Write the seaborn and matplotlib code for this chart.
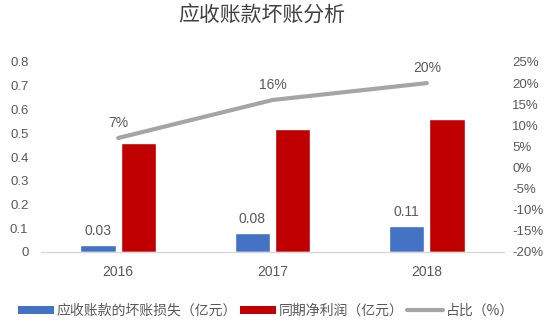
import numpy as np
import pandas as pd
import matplotlib
matplotlib.use("Agg")
import matplotlib.pyplot as plt
from matplotlib.patches import Patch
from matplotlib.lines import Line2D
from matplotlib.ticker import FuncFormatter
import seaborn as sns

# Data
years = ["2016", "2017", "2018"]
bad_debt = [0.03, 0.08, 0.11]        # 应收账款的坏账损失（亿元）
net_profit = [0.46, 0.52, 0.56]      # 同期净利润（亿元）
ratio = [0.07, 0.16, 0.20]           # 占比
ratio_labels = ["7%", "16%", "20%"]
series_names = ["应收账款的坏账损失（亿元）", "同期净利润（亿元）", "占比（%）"]
left_ticks = [0, 0.1, 0.2, 0.3, 0.4, 0.5, 0.6, 0.7, 0.8]
right_ticks = [-0.20, -0.15, -0.10, -0.05, 0, 0.05, 0.10, 0.15, 0.20, 0.25]

BLUE = "#4472C4"
RED = "#C00000"
GRAY = "#A5A5A5"
TXT = "#595959"

sns.set_theme(style="white")
plt.rcParams["font.family"] = ["Liberation Sans", "Noto Sans CJK SC", "DejaVu Sans"]
plt.rcParams["axes.unicode_minus"] = True

df = pd.DataFrame({
    "year": years * 2,
    "value": bad_debt + net_profit,
    "series": [series_names[0]] * len(years) + [series_names[1]] * len(years),
})

fig = plt.figure(figsize=(5.5, 3.29), dpi=100)
ax = fig.add_axes([41 / 550, 1 - 252 / 329, (504 - 41) / 550, (252 - 62) / 329])

sns.barplot(data=df, x="year", y="value", hue="series", order=years,
            hue_order=series_names[:2], palette=[BLUE, RED],
            width=0.52, gap=0.12, saturation=1, legend=False, ax=ax)

ax.set_xlim(-0.5, len(years) - 0.5)
ax.set_ylim(0, 0.8)
ax.set_yticks(left_ticks)
ax.yaxis.set_major_formatter(FuncFormatter(lambda v, p: "0" if v == 0 else f"{v:.1f}"))
ax.set_xlabel("")
ax.set_ylabel("")
for s in ["top", "right", "left"]:
    ax.spines[s].set_visible(False)
ax.spines["bottom"].set_color("#D9D9D9")
ax.spines["bottom"].set_linewidth(1)
ax.tick_params(axis="x", length=0, pad=9, labelsize=10, colors=TXT)
ax.tick_params(axis="y", length=0, pad=9, labelsize=9.5, colors=TXT)

# value labels on the bad-debt bars
ax.bar_label(ax.containers[0], labels=[f"{v:.2f}" for v in bad_debt],
             padding=5, fontsize=10, color=TXT)

# ratio line on the secondary axis
ax2 = ax.twinx()
sns.lineplot(x=np.arange(len(years)), y=ratio, color=GRAY, linewidth=3,
             ax=ax2, legend=False)
ax2.set_ylim(-0.20, 0.25)
ax2.set_yticks(right_ticks)
ax2.yaxis.set_major_formatter(FuncFormatter(lambda v, p: f"{round(v * 100):d}%"))
for s in ["top", "right", "left", "bottom"]:
    ax2.spines[s].set_visible(False)
ax2.tick_params(axis="y", length=0, pad=6, labelsize=9.5, colors=TXT)
for i, (v, t) in enumerate(zip(ratio, ratio_labels)):
    ax2.annotate(t, (i, v), xytext=(0, 11), textcoords="offset points",
                 ha="center", va="center", fontsize=10, color=TXT)

# title
fig.text(262 / 550, 1 - 16 / 329, "应收账款坏账分析", ha="center", va="center",
         fontsize=15, color="#404040", family=["Noto Sans CJK SC"])

# legend
handles = [Patch(facecolor=BLUE, edgecolor="none"),
           Patch(facecolor=RED, edgecolor="none"),
           Line2D([], [], color=GRAY, linewidth=3)]
fig.legend(handles, series_names, loc="center left",
           bbox_to_anchor=(18 / 550, 1 - 311 / 329),
           ncol=3, frameon=False, handlelength=2.6, handleheight=0.55,
           handletextpad=0.2, columnspacing=0.2, borderpad=0, borderaxespad=0,
           prop={"family": ["Noto Sans CJK SC"], "size": 10},
           labelcolor=TXT)

fig.savefig("out.png", dpi=100, facecolor="white")
